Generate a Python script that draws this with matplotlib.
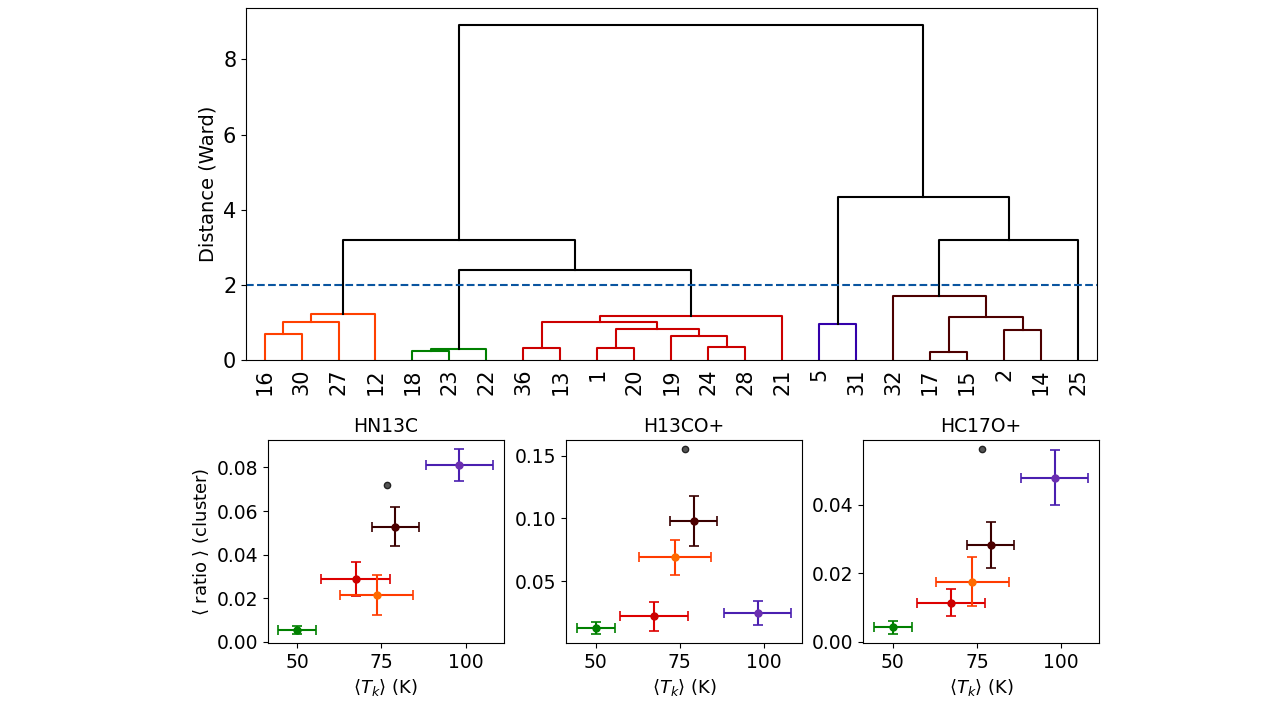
import matplotlib
matplotlib.use('Agg')
import matplotlib.pyplot as plt

# dendrogram leaves (left to right) and merges
leaf_labels = ['16', '30', '27', '12', '18', '23', '22', '36', '13', '1', '20',
               '19', '24', '28', '21', '5', '31', '32', '17', '15', '2', '14', '25']
# children are leaf labels (str) or earlier merge index (int)
link_left = ['16', 0, 1, '18', 3, '36', '1', '24', '19', 6, 5, 10,
             '5', '17', '2', 13, '32', 4, 2, 16, 12, 18]
link_right = ['30', '27', '12', '23', '22', '13', '20', '28', 7, 8, 9, '21',
              '31', '15', '14', 14, 15, 11, 17, '25', 19, 20]
link_height = [0.69, 1.01, 1.23, 0.24, 0.29, 0.32, 0.32, 0.35, 0.64, 0.83, 1.01, 1.17,
               0.95, 0.21, 0.80, 1.13, 1.69, 2.40, 3.20, 3.20, 4.35, 8.93]
link_color = ['#ff4000'] * 3 + ['#008000'] * 2 + ['#cc0000'] * 7 + ['#3300aa'] + \
             ['#4d0000'] * 4 + ['k'] * 5
cut_height = 2.0

# cluster means
clusters = ['green', 'red', 'orange', 'brown', 'purple']
mark_colors = ['#008000', '#cc0000', '#ff6a00', '#4d0000', '#6a2fb0']
err_colors = ['#008000', '#dd0000', '#ff3c00', '#3a0000', '#4a1fb0']
tk = [50.0, 67.3, 73.6, 79.1, 98.1]
tk_err = [5.6, 10.2, 10.8, 6.9, 10.0]
single_tk = 76.5

molecules = ['HN13C', 'H13CO+', 'HC17O+']
ratio = {
    'HN13C': [0.0055, 0.0288, 0.0215, 0.0528, 0.0810],
    'H13CO+': [0.0131, 0.0224, 0.0690, 0.0978, 0.0250],
    'HC17O+': [0.0042, 0.0114, 0.0175, 0.0282, 0.0478],
}
ratio_err = {
    'HN13C': [0.0018, 0.0078, 0.0090, 0.0089, 0.0073],
    'H13CO+': [0.0048, 0.0115, 0.0140, 0.0197, 0.0095],
    'HC17O+': [0.0019, 0.0040, 0.0071, 0.0068, 0.0080],
}
single_ratio = {'HN13C': 0.0718, 'H13CO+': 0.155, 'HC17O+': 0.0561}

fig = plt.figure(figsize=(12.75, 7.07), dpi=100)

# --- dendrogram ---
ax = fig.add_axes([0.193, 0.491, 0.667, 0.498])
leaf_x = {lab: 5 + 10 * i for i, lab in enumerate(leaf_labels)}
node_x = []
node_h = []


def child_pos(c):
    if isinstance(c, str):
        return leaf_x[c], 0.0
    return node_x[c], node_h[c]


for a, b, h, col in zip(link_left, link_right, link_height, link_color):
    xa, ha = child_pos(a)
    xb, hb = child_pos(b)
    ax.plot([xa, xa, xb, xb], [ha, h, h, hb], color=col, lw=1.5)
    node_x.append((xa + xb) / 2)
    node_h.append(h)

ax.axhline(cut_height, color='#0a55a0', ls='--', lw=1.5)
ax.set_xlim(0, 10 * len(leaf_labels))
ax.set_ylim(0, max(link_height) * 1.05)
ax.set_xticks([leaf_x[l] for l in leaf_labels])
ax.set_xticklabels(leaf_labels, rotation=90, fontsize=15)
ax.tick_params(axis='x', length=0, pad=6)
ax.tick_params(axis='y', labelsize=15)
ax.set_yticks([0, 2, 4, 6, 8])
ax.set_ylabel('Distance (Ward)', fontsize=14)

# --- ratio vs temperature panels ---
lefts = [0.210, 0.444, 0.677]
for i, mol in enumerate(molecules):
    axs = fig.add_axes([lefts[i], 0.0905, 0.185, 0.287])
    for j in range(len(clusters)):
        axs.errorbar(tk[j], ratio[mol][j], xerr=tk_err[j], yerr=ratio_err[mol][j],
                     fmt='o', ms=5, color=mark_colors[j], ecolor=err_colors[j],
                     elinewidth=1.5, capsize=3.5, capthick=1.2)
    axs.plot(single_tk, single_ratio[mol], 'o', ms=4.5, color='#555555',
             mec='#222222')
    axs.set_title(mol, fontsize=13.5)
    axs.set_xticks([50, 75, 100])
    axs.tick_params(labelsize=13.5)
    axs.set_xlabel(r'$\langle T_k \rangle$ (K)', fontsize=13)
    if i == 0:
        axs.set_ylabel(r'$\langle$ ratio $\rangle$ (cluster)', fontsize=13)

fig.savefig('out.png', dpi=100)
